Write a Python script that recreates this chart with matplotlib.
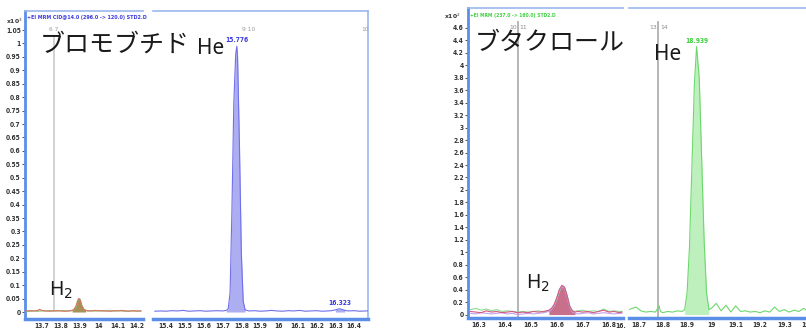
import matplotlib
matplotlib.use("Agg")
import matplotlib.pyplot as plt
from matplotlib import font_manager
from matplotlib.ticker import FixedLocator, MultipleLocator, FuncFormatter
import numpy as np

plt.rcParams["mathtext.fontset"] = "dejavusans"

# bromobutide, H2 carrier (x10^3 counts)
t_bro_h2 = [13.62, 13.64, 13.66, 13.68, 13.69, 13.70, 13.72, 13.74, 13.76, 13.78,
            13.80, 13.82, 13.84, 13.86, 13.87, 13.88, 13.885, 13.89, 13.895, 13.90,
            13.905, 13.91, 13.92, 13.93, 13.94, 13.96, 13.98, 14.00, 14.02, 14.04,
            14.06, 14.08, 14.10, 14.12, 14.14, 14.16, 14.18, 14.20, 14.22]
bro_h2_red = [0.004, 0.005, 0.004, 0.006, 0.010, 0.006, 0.004, 0.003, 0.004, 0.005,
              0.004, 0.003, 0.004, 0.006, 0.010, 0.022, 0.034, 0.045, 0.050, 0.047,
              0.036, 0.024, 0.010, 0.006, 0.005, 0.004, 0.006, 0.004, 0.005, 0.004,
              0.003, 0.005, 0.004, 0.006, 0.004, 0.003, 0.005, 0.004, 0.004]
bro_h2_grn = [0.003, 0.003, 0.004, 0.003, 0.004, 0.004, 0.004, 0.005, 0.004, 0.004,
              0.005, 0.004, 0.004, 0.005, 0.008, 0.018, 0.030, 0.041, 0.047, 0.049,
              0.040, 0.026, 0.012, 0.006, 0.004, 0.004, 0.004, 0.005, 0.004, 0.004,
              0.004, 0.004, 0.005, 0.004, 0.003, 0.004, 0.004, 0.003, 0.004]
bro_h2_peaks = [(13.86, 13.93)]

# bromobutide, He carrier
t_bro_he = [15.34, 15.37, 15.40, 15.43, 15.46, 15.49, 15.52, 15.55, 15.58, 15.61,
            15.64, 15.67, 15.70, 15.72, 15.73, 15.74, 15.75, 15.76, 15.77, 15.776,
            15.78, 15.79, 15.80, 15.81, 15.82, 15.84, 15.87, 15.90, 15.93, 15.96,
            15.99, 16.02, 16.05, 16.08, 16.11, 16.14, 16.17, 16.20, 16.23, 16.26,
            16.28, 16.30, 16.31, 16.323, 16.335, 16.35, 16.37, 16.40, 16.43, 16.46,
            16.48]
bro_he = [0.003, 0.004, 0.003, 0.005, 0.004, 0.006, 0.003, 0.004, 0.005, 0.003,
          0.004, 0.005, 0.004, 0.006, 0.012, 0.07, 0.38, 0.78, 0.96, 0.99,
          0.95, 0.62, 0.22, 0.04, 0.008, 0.004, 0.005, 0.003, 0.004, 0.006,
          0.004, 0.003, 0.005, 0.004, 0.006, 0.003, 0.004, 0.005, 0.003, 0.004,
          0.005, 0.008, 0.010, 0.012, 0.010, 0.006, 0.004, 0.005, 0.003, 0.004,
          0.004]
bro_he_peaks = [(15.72, 15.83), (16.29, 16.36)]
bro_he_labels = [(15.776, 0.99, "15.776"), (16.323, 0.012, "16.323")]
bro_yticks = [0, 0.05, 0.1, 0.15, 0.2, 0.25, 0.3, 0.35, 0.4, 0.45, 0.5, 0.55,
              0.6, 0.65, 0.7, 0.75, 0.8, 0.85, 0.9, 0.95, 1, 1.05]

# butachlor, H2 carrier (x10^2 counts)
t_buta_h2 = [16.27, 16.29, 16.31, 16.33, 16.35, 16.37, 16.39, 16.41, 16.43, 16.45,
             16.47, 16.49, 16.51, 16.53, 16.55, 16.57, 16.58, 16.59, 16.60, 16.61,
             16.62, 16.63, 16.64, 16.65, 16.66, 16.67, 16.68, 16.70, 16.72, 16.74,
             16.76, 16.78, 16.80, 16.82, 16.84, 16.85]
buta_h2_pink = [0.05, 0.04, 0.03, 0.06, 0.04, 0.05, 0.03, 0.04, 0.05, 0.03,
                0.04, 0.03, 0.05, 0.04, 0.05, 0.07, 0.10, 0.16, 0.27, 0.40,
                0.47, 0.44, 0.30, 0.13, 0.06, 0.04, 0.05, 0.04, 0.05, 0.03,
                0.05, 0.07, 0.04, 0.05, 0.03, 0.04]
buta_h2_grn = [0.08, 0.10, 0.07, 0.09, 0.06, 0.08, 0.05, 0.06, 0.05, 0.04,
               0.05, 0.04, 0.05, 0.06, 0.04, 0.06, 0.09, 0.14, 0.24, 0.37,
               0.45, 0.43, 0.31, 0.14, 0.06, 0.05, 0.06, 0.07, 0.05, 0.06,
               0.05, 0.09, 0.05, 0.06, 0.05, 0.05]
buta_h2_vio = [0.02, 0.01, 0.03, 0.02, 0.01, 0.02, 0.03, 0.01, 0.02, 0.00,
               0.01, 0.02, 0.01, 0.02, 0.03, 0.05, 0.08, 0.15, 0.26, 0.39,
               0.46, 0.42, 0.28, 0.11, 0.04, 0.02, 0.01, 0.02, 0.03, 0.01,
               0.02, 0.03, 0.02, 0.01, 0.02, 0.02]
buta_h2_peaks = [(16.56, 16.67)]

# butachlor, He carrier
t_buta_he = [18.63, 18.66, 18.69, 18.71, 18.73, 18.75, 18.77, 18.785, 18.79, 18.80,
             18.82, 18.84, 18.86, 18.88, 18.89, 18.90, 18.91, 18.92, 18.93, 18.939,
             18.95, 18.96, 18.97, 18.98, 18.99, 19.00, 19.02, 19.04, 19.06, 19.08,
             19.10, 19.12, 19.14, 19.16, 19.18, 19.20, 19.22, 19.24, 19.26, 19.28,
             19.30, 19.32, 19.34, 19.36, 19.38, 19.40, 19.42, 19.44]
buta_he = [0.04, 0.08, 0.12, 0.06, 0.04, 0.05, 0.04, 0.14, 0.05, 0.03,
           0.05, 0.04, 0.06, 0.05, 0.08, 0.35, 1.1, 2.4, 3.7, 4.3,
           3.8, 2.5, 1.2, 0.35, 0.08, 0.10, 0.18, 0.06, 0.15, 0.04,
           0.14, 0.05, 0.06, 0.04, 0.05, 0.03, 0.06, 0.04, 0.12, 0.05,
           0.08, 0.04, 0.07, 0.05, 0.10, 0.04, 0.06, 0.05]
buta_he_peaks = [(18.885, 18.995)]
buta_he_labels = [(18.939, 4.3, "18.939")]
buta_yticks = [0, 0.2, 0.4, 0.6, 0.8, 1, 1.2, 1.4, 1.6, 1.8, 2, 2.2, 2.4, 2.6,
               2.8, 3, 3.2, 3.4, 3.6, 3.8, 4, 4.2, 4.4, 4.6]

# segment markers
bro_marks = [(13.765, "6 7")]
bro_he_marks = [(15.84, "9 10"), (16.46, "10")]
buta_marks = [(16.452, "10", "11"), (18.781, "13", "14")]

W, H = 806, 329
fig = plt.figure(figsize=(W / 100, H / 100), dpi=100)


def px(x0, y0, x1, y1):
    return [x0 / W, 1 - y1 / H, (x1 - x0) / W, (y1 - y0) / H]


installed = {f.name for f in font_manager.fontManager.ttflist}
NARROW = "Liberation Sans Narrow" if "Liberation Sans Narrow" in installed else "DejaVu Sans"
TICKFONT = dict(family=NARROW, size=4.8, weight="bold", stretch="condensed")
DARK = "#5b8ee6"
LIGHT = "#9ab8ee"


def style(ax, xlim, ylim, yticks):
    ax.set_xlim(*xlim)
    ax.set_ylim(*ylim)
    ax.xaxis.set_major_locator(MultipleLocator(0.1))
    ax.xaxis.set_major_formatter(FuncFormatter(lambda v, p: f"{v:g}"))
    ax.tick_params(axis="x", length=0, pad=3, colors="#333333")
    for s in ax.spines.values():
        s.set_visible(False)
    ax.spines["bottom"].set_visible(True)
    ax.spines["bottom"].set_color(DARK)
    ax.spines["bottom"].set_linewidth(2.5)
    ax.spines["top"].set_visible(True)
    ax.spines["top"].set_color(LIGHT)
    ax.spines["top"].set_linewidth(1.2)
    if yticks:
        ax.spines["left"].set_visible(True)
        ax.spines["left"].set_color(DARK)
        ax.spines["left"].set_linewidth(2)
        ax.yaxis.set_major_locator(FixedLocator(yticks))
        ax.yaxis.set_major_formatter(FuncFormatter(lambda v, p: f"{v:g}"))
        ax.tick_params(axis="y", length=2, width=0.6, pad=1, colors="#333333")
    else:
        ax.set_yticks([])
    for lab in ax.get_xticklabels() + ax.get_yticklabels():
        lab.set_fontfamily(TICKFONT["family"])
        lab.set_fontsize(TICKFONT["size"])
        lab.set_fontweight(TICKFONT["weight"])
        lab.set_fontstretch(TICKFONT["stretch"])


def fill_peaks(ax, t, y, windows, color, alpha):
    t = np.asarray(t)
    for lo, hi in windows:
        m = (t >= lo) & (t <= hi)
        ax.fill_between(t, 0, y, where=m, color=color, alpha=alpha, lw=0, zorder=2)


def label_peaks(ax, labels, color):
    for x, y, s in labels:
        ax.annotate(s, (x, y), xytext=(0, 2), textcoords="offset points",
                    ha="center", va="bottom", color=color, **TICKFONT)


def small_gray(ax, x, y, s, dx=0, ha="center", color="#9a9a9a"):
    ax.annotate(s, (x, y), xycoords=("data", "axes fraction"), xytext=(dx, 0),
                textcoords="offset points", ha=ha, va="center",
                fontsize=4.3, color=color, family=NARROW)


# ---- left block: bromobutide
ax1 = fig.add_axes(px(25, 11, 143, 319))
ax2 = fig.add_axes(px(153, 11, 368, 319))
bro_ylim = (-0.026, 1.121)
style(ax1, (13.613, 14.231), bro_ylim, bro_yticks)
style(ax2, (15.330, 16.474), bro_ylim, None)
ax2.spines["right"].set_visible(True)
ax2.spines["right"].set_color(LIGHT)
ax2.spines["right"].set_linewidth(1.2)

fill_peaks(ax1, t_bro_h2, bro_h2_red, bro_h2_peaks, "#9a8646", 0.9)
ax1.plot(t_bro_h2, bro_h2_grn, color="#6fbf6f", lw=0.8, zorder=3)
ax1.plot(t_bro_h2, bro_h2_red, color="#e0705e", lw=0.8, zorder=3)

fill_peaks(ax2, t_bro_he, bro_he, bro_he_peaks, "#a9a9f2", 0.95)
ax2.plot(t_bro_he, bro_he, color="#7070ea", lw=0.8, zorder=3)
label_peaks(ax2, bro_he_labels, "#3a3ae0")

for x, s in bro_marks:
    ax1.axvline(x, ymin=0.03, ymax=0.915, color="#cfcfcf", lw=1.3, zorder=1)
    small_gray(ax1, x, 0.94, s)
for x, s in bro_he_marks:
    small_gray(ax2, x, 0.94, s)

fig.text(27 / W, 1 - 18 / H, "+EI MRM CID@14.0 (296.0 -> 120.0) STD2.D",
         fontsize=3.9, fontweight="bold", fontstretch="condensed",
         color="#3a3ae0", va="center", family=NARROW)
fig.text(6 / W, 1 - 21 / H, r"x10$^3$", fontsize=4.3, fontweight="bold",
         color="#333333", va="center")

# ---- right block: butachlor
ax3 = fig.add_axes(px(468, 8, 623, 318))
ax4 = fig.add_axes(px(629, 8, 830, 318))
buta_ylim = (-0.055, 4.92)
style(ax3, (16.26, 16.854), buta_ylim, buta_yticks)
style(ax4, (18.661, 19.488), buta_ylim, None)
# last tick label is cut by the next segment
ax3.annotate("16.", (1.0, 0), xycoords="axes fraction", xytext=(2.5, -3.4),
             textcoords="offset points", ha="right", va="top",
             annotation_clip=False, color="#333333", **TICKFONT)

fill_peaks(ax3, t_buta_h2, buta_h2_pink, buta_h2_peaks, "#c2607e", 0.9)
ax3.plot(t_buta_h2, buta_h2_grn, color="#8fdc8f", lw=0.8, zorder=3)
ax3.plot(t_buta_h2, buta_h2_vio, color="#c7a0ea", lw=0.8, zorder=3)
ax3.plot(t_buta_h2, buta_h2_pink, color="#d25a86", lw=0.8, zorder=3)

fill_peaks(ax4, t_buta_he, buta_he, buta_he_peaks, "#bdf0bd", 1.0)
ax4.plot(t_buta_he, buta_he, color="#6cd86c", lw=0.8, zorder=3)
label_peaks(ax4, buta_he_labels, "#3fd03f")

for ax, (x, a, b) in zip([ax3, ax4], buta_marks):
    ax.axvline(x, ymin=0.0, ymax=0.955, color="#b0b0b0", lw=1.3, zorder=1)
    small_gray(ax, x, 0.937, a, dx=-1.2, ha="right", color="#8a8a8a")
    small_gray(ax, x, 0.937, b, dx=1.2, ha="left", color="#8a8a8a")

fig.text(470 / W, 1 - 16 / H, "+EI MRM (237.0 -> 160.0) STD2.D",
         fontsize=3.6, fontweight="bold", fontstretch="condensed",
         color="#3fd03f", va="center", family=NARROW)
fig.text(444 / W, 1 - 16 / H, r"x10$^2$", fontsize=4.3, fontweight="bold",
         color="#333333", va="center")

# ---- compound / carrier gas annotations
JP = ["Noto Sans CJK JP", "DejaVu Sans"]
fig.text(40 / W, 1 - 45 / H, "ブロモブチド", fontsize=18, family=JP,
         color="#1a1a1a", va="center")
fig.text(475 / W, 1 - 43 / H, "ブタクロール", fontsize=18, family=JP,
         color="#1a1a1a", va="center")
for x, y in [(197, 48), (654, 55)]:
    fig.text(x / W, 1 - y / H, "He", fontsize=15, family="Noto Sans",
             color="#1a1a1a", va="center")
for x, y in [(49, 290), (526, 283)]:
    fig.text(x / W, 1 - y / H, r"H$_2$", fontsize=14, family="Noto Sans",
             color="#1a1a1a", va="center")

fig.savefig("out.png", dpi=100, facecolor="white")
